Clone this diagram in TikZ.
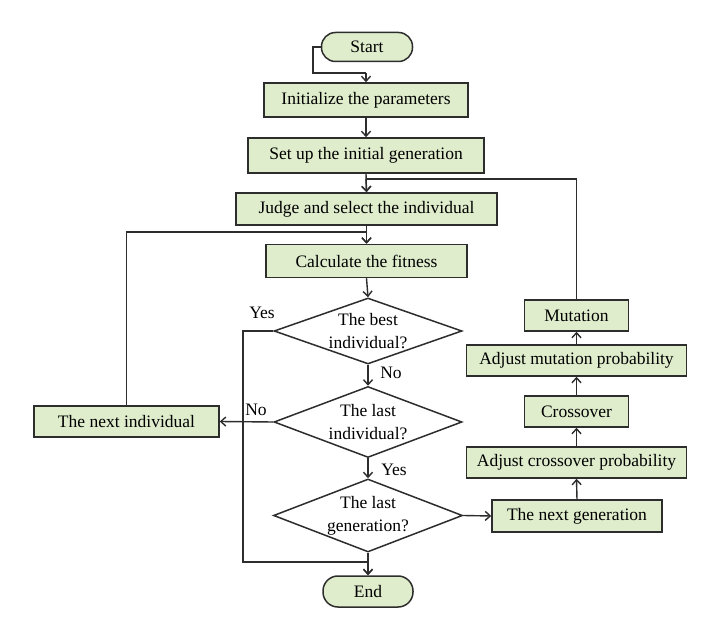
\documentclass[tikz,border=0pt]{standalone}
\usepackage{fontspec}
\setmainfont{Liberation Serif}
\usetikzlibrary{shapes.geometric,arrows.meta}
\definecolor{boxfill}{RGB}{223,237,204}
\definecolor{lineclr}{RGB}{45,45,45}
\tikzset{
  base/.style={draw=lineclr, line width=1.5pt, fill=boxfill, inner sep=0pt, font=\fontsize{17.5}{21}\selectfont, text=black},
  procbox/.style={base, rectangle, minimum height=32pt},
  termbox/.style={base, rounded corners=14pt, minimum height=29pt},
  decbox/.style={draw=lineclr, line width=1.5pt, fill=white, diamond, inner sep=0pt},
  dectext/.style={align=center, inner sep=0pt, font=\fontsize{17.5}{23}\selectfont},
  conn/.style={draw=lineclr, line width=1.4pt, -{Straight Barb[length=5pt,width=9pt]}},
  plain/.style={draw=lineclr, line width=1.4pt},
  lbl/.style={font=\fontsize{17.5}{21}\selectfont, inner sep=0pt}
}
\begin{document}
\begin{tikzpicture}[x=1pt,y=-1pt]
\useasboundingbox[fill=white] (0,0) rectangle (721,636);
% main column
\node[termbox, minimum width=91pt] (start) at (367,47) {Start};
\node[procbox, minimum width=204pt, minimum height=34pt] (init) at (366,100) {Initialize the parameters};
\node[procbox, minimum width=236pt, minimum height=35pt] (setup) at (366,155.5) {Set up the initial generation};
\node[procbox, minimum width=261pt] (judge) at (366.5,209) {Judge and select the individual};
\node[procbox, minimum width=201pt, minimum height=33pt] (calc) at (366.5,261) {Calculate the fitness};
\node[decbox, minimum width=188pt, minimum height=66pt] (best) at (368,331) {};
\node[dectext] (besttxt) at (best.center) {The best\\individual?};
\node[decbox, minimum width=188pt, minimum height=71pt] (lasti) at (368,422) {};
\node[dectext] (lastitxt) at (lasti.center) {The last\\individual?};
\node[decbox, minimum width=189pt, minimum height=73pt] (lastg) at (368,515.5) {};
\node[dectext] (lastgtxt) at (lastg.center) {The last\\generation?};
\node[termbox, minimum width=90pt, minimum height=31pt, rounded corners=15pt] (endn) at (368,591.5) {End};
% left
\node[procbox, minimum width=185pt, minimum height=31pt] (nexti) at (126.5,421.5) {The next individual};
% right column
\node[procbox, minimum width=104pt, minimum height=31pt] (mut) at (576.5,315.5) {Mutation};
\node[procbox, minimum width=220pt, minimum height=31pt] (adjm) at (576.5,360.5) {Adjust mutation probability};
\node[procbox, minimum width=104pt, minimum height=31pt] (cross) at (576.5,411.5) {Crossover};
\node[procbox, minimum width=220pt, minimum height=31pt] (adjc) at (576.5,462.5) {Adjust crossover probability};
\node[procbox, minimum width=170pt, minimum height=32pt] (nextg) at (577,516) {The next generation};
% helper coordinates
\coordinate (s1) at (313,47);
\coordinate (s2) at (313,73);
\coordinate (s3) at (366,73);
\coordinate (m1) at (366,179);
\coordinate (n1) at (366.5,232);
\coordinate (y1) at (243,331);
\coordinate (y2) at (243,562);
\coordinate (y3) at (368,562);
% connectors
\draw[plain] (start.west) -- (s1) -- (s2) -- (s3);
\draw[conn] (s3) -- (init.north);
\draw[conn] (init.south) -- (setup.north);
\draw[conn] (setup.south) -- (judge.north);
\draw[plain] (mut.north) |- (m1);
\draw[conn] (m1) -- (judge.north);
\draw[conn] (judge.south) -- (calc.north);
\draw[plain] (nexti.north) |- (n1);
\draw[conn] (n1) -- (calc.north);
\draw[conn] (calc.south) -- (best.north);
\draw[plain] (best.west) -- (y1) -- (y2) -- (y3);
\draw[conn] (y3) -- (endn.north);
\draw[conn] (best.south) -- (lasti.north);
\draw[conn] (lasti.west) -- (nexti.east);
\draw[conn] (lasti.south) -- (lastg.north);
\draw[conn] (lastg.south) -- (endn.north);
\draw[conn] (lastg.east) -- (nextg.west);
\draw[conn] (nextg.north) -- (adjc.south);
\draw[conn] (adjc.north) -- (cross.south);
\draw[conn] (cross.north) -- (adjm.south);
\draw[conn] (adjm.north) -- (mut.south);
% labels
\node[lbl] (lyes1) at (262,313) {Yes};
\node[lbl] (lno1) at (391,373) {No};
\node[lbl] (lno2) at (256,410) {No};
\node[lbl] (lyes2) at (394,470) {Yes};
\end{tikzpicture}
\end{document}
